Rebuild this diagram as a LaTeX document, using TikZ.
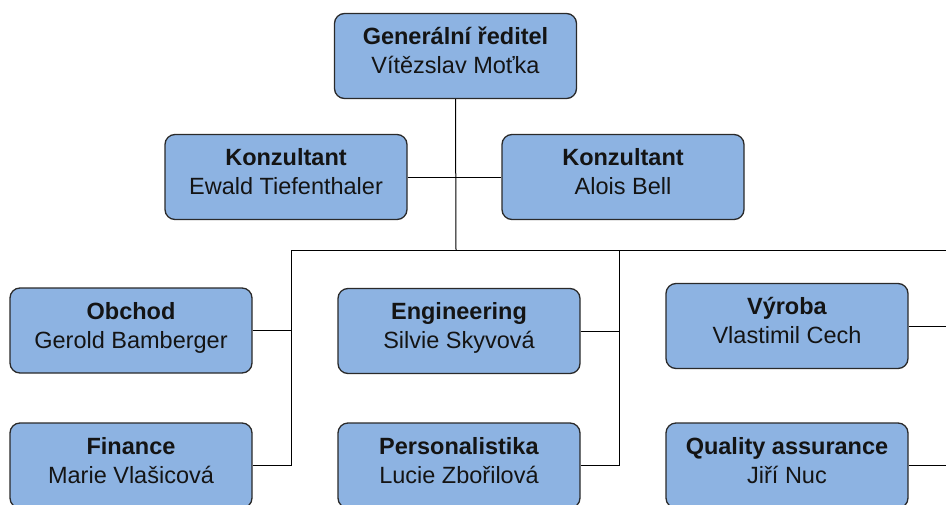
\documentclass[tikz,border=0pt]{standalone}
\usepackage{fontspec}
\setmainfont{Liberation Sans}
\definecolor{boxfill}{HTML}{8DB3E2}
\definecolor{boxline}{HTML}{2A2A2A}
\definecolor{txt}{HTML}{141414}
\begin{document}
\begin{tikzpicture}[x=1pt,y=-1pt,
  orgbox/.style={draw=boxline, fill=boxfill, line width=1.3pt, rounded corners=10pt,
    minimum width=242pt, minimum height=85pt, align=center, text=txt,
    font=\fontsize{23.5}{29}\selectfont, inner sep=0pt, text depth=11pt},
  conn/.style={draw=black, line width=1pt}]
\useasboundingbox (0,0) rectangle (946,504);
\node[orgbox] (gr) at (455.5,56) {\textbf{Generální ředitel}\\Vítězslav Moťka};
\node[orgbox] (k1) at (286,177) {\textbf{Konzultant}\\Ewald Tiefenthaler};
\node[orgbox] (k2) at (623,177) {\textbf{Konzultant}\\Alois Bell};
\node[orgbox] (ob) at (131,330.5) {\textbf{Obchod}\\Gerold Bamberger};
\node[orgbox] (en) at (459,331) {\textbf{Engineering}\\Silvie Skyvová};
\node[orgbox] (vy) at (787,326) {\textbf{Výroba}\\Vlastimil Cech};
\node[orgbox] (fi) at (131,465.5) {\textbf{Finance}\\Marie Vlašicová};
\node[orgbox] (pe) at (459,465.5) {\textbf{Personalistika}\\Lucie Zbořilová};
\node[orgbox] (qa) at (787,465.5) {\textbf{Quality assurance}\\Jiří Nuc};
\coordinate (bus) at (456,250);
\coordinate (bL) at (291,250);
\coordinate (bM) at (619,250);
\coordinate (bR) at (946,250);
\draw[conn] (gr.south) -- (bus);
\draw[conn] (k1.east) -- (k2.west);
\draw[conn] (bL) -- (bR);
\draw[conn] (ob.east) -| (bL);
\draw[conn] (fi.east) -| (bL);
\draw[conn] (en.east) -| (bM);
\draw[conn] (pe.east) -| (bM);
\draw[conn] (vy.east) -- (vy.east -| bR);
\draw[conn] (qa.east) -- (qa.east -| bR);
\end{tikzpicture}
\end{document}
